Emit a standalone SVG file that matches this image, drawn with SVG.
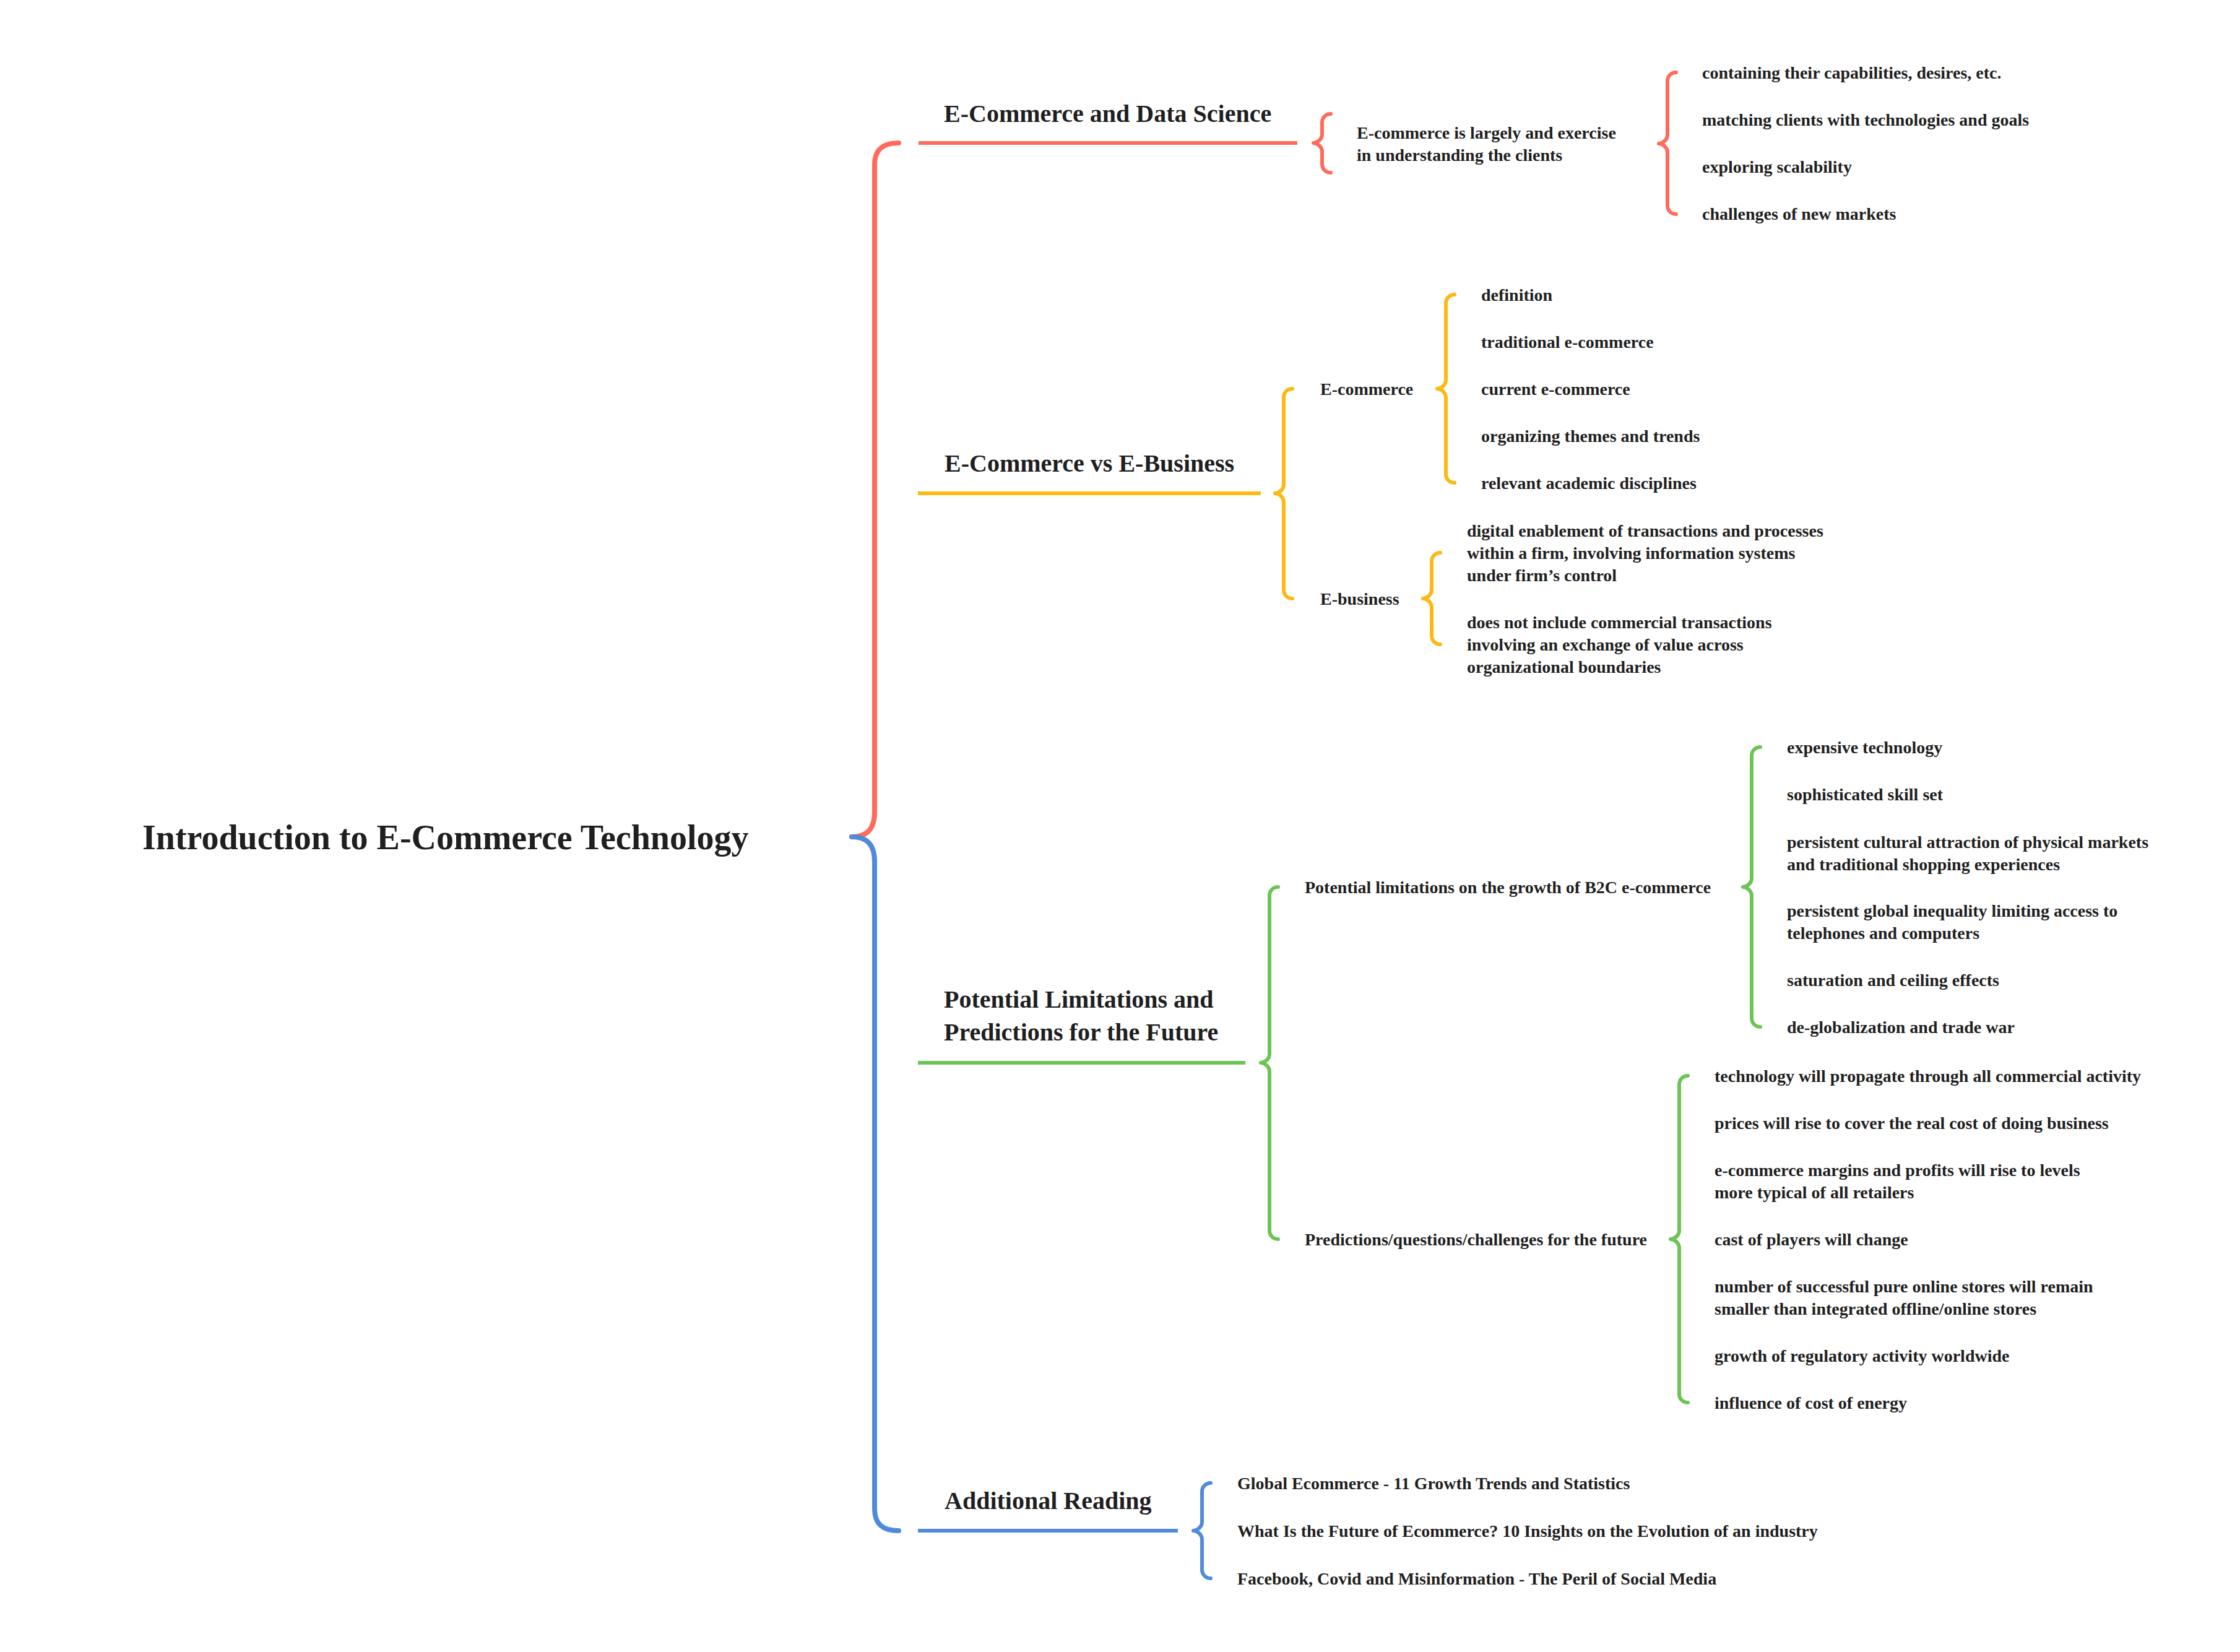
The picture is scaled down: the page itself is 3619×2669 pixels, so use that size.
<svg xmlns="http://www.w3.org/2000/svg" width="3619" height="2669" viewBox="0 0 3619 2669">
<style>
text{font-family:"Liberation Serif","Times New Roman",serif;font-weight:bold;fill:#1f1f1f}
.root{font-size:56px}
.h{font-size:40px}
.t{font-size:28px}
.c{fill:none;stroke-linecap:round;stroke-linejoin:round}
.main{stroke-width:8}
.br{stroke-width:6}
.ln{fill:none;stroke-width:6}
.red{stroke:#FF6B5A}.org{stroke:#FDB813}.grn{stroke:#6CC454}.blu{stroke:#508ADC}
</style>
<rect width="3619" height="2669" fill="#ffffff"/>
<g id="connectors">
<path class="c main red" d="M1452,231 C1426,231 1413,242 1413,266 L1413,1312 C1413,1340 1400,1352 1376,1352"/>
<path class="c main blu" d="M1376,1352 C1400,1352 1413,1364 1413,1392 L1413,2438 C1413,2462 1426,2473 1452,2473"/>
<line class="ln red" x1="1484" y1="231" x2="2096" y2="231"/>
<line class="ln org" x1="1483" y1="797" x2="2037" y2="797"/>
<line class="ln grn" x1="1483" y1="1717" x2="2012" y2="1717"/>
<line class="ln blu" x1="1483" y1="2473" x2="1903" y2="2473"/>
<path class="c br red" d="M2150,184 C2142,184 2136,190 2136,198 L2136,217 C2136,225 2128,231 2122,231 C2128,231 2136,237 2136,245 L2136,265 C2136,273 2142,279 2150,279"/>
<path class="c br red" d="M2708,117 C2700,117 2694,123 2694,131 L2694,218 C2694,226 2686,232 2680,232 C2686,232 2694,238 2694,246 L2694,332 C2694,340 2700,346 2708,346"/>
<path class="c br org" d="M2088,628 C2080,628 2074,634 2074,642 L2074,783 C2074,791 2066,797 2060,797 C2066,797 2074,803 2074,811 L2074,953 C2074,961 2080,967 2088,967"/>
<path class="c br org" d="M2350,476 C2342,476 2336,482 2336,490 L2336,614 C2336,622 2328,628 2322,628 C2328,628 2336,634 2336,642 L2336,766 C2336,774 2342,780 2350,780"/>
<path class="c br org" d="M2327,893 C2319,893 2313,899 2313,907 L2313,953 C2313,961 2305,967 2299,967 C2305,967 2313,973 2313,981 L2313,1027 C2313,1035 2319,1041 2327,1041"/>
<path class="c br grn" d="M2065,1433 C2057,1433 2051,1439 2051,1447 L2051,1703 C2051,1711 2043,1717 2037,1717 C2043,1717 2051,1723 2051,1731 L2051,1988 C2051,1996 2057,2002 2065,2002"/>
<path class="c br grn" d="M2844,1207 C2836,1207 2830,1213 2830,1221 L2830,1419 C2830,1427 2822,1433 2816,1433 C2822,1433 2830,1439 2830,1447 L2830,1645 C2830,1653 2836,1659 2844,1659"/>
<path class="c br grn" d="M2727,1738 C2719,1738 2713,1744 2713,1752 L2713,1988 C2713,1996 2705,2002 2699,2002 C2705,2002 2713,2008 2713,2016 L2713,2252 C2713,2260 2719,2266 2727,2266"/>
<path class="c br blu" d="M1956,2396 C1948,2396 1942,2402 1942,2410 L1942,2459 C1942,2467 1934,2473 1928,2473 C1934,2473 1942,2479 1942,2487 L1942,2536 C1942,2544 1948,2550 1956,2550"/>
</g>
<g id="root"><text class="root" x="230" y="1372">Introduction to E-Commerce Technology</text></g>

<g id="n-ecds"><text class="h" x="1525" y="197">E-Commerce and Data Science</text></g>
<g id="n-ecds-1"><text class="t" x="2192" y="223.5">E-commerce is largely and exercise</text><text class="t" x="2192" y="259.5">in understanding the clients</text></g>
<g id="n-ecds-1a"><text class="t" x="2750" y="127">containing their capabilities, desires, etc.</text></g>
<g id="n-ecds-1b"><text class="t" x="2750" y="203">matching clients with technologies and goals</text></g>
<g id="n-ecds-1c"><text class="t" x="2750" y="279">exploring scalability</text></g>
<g id="n-ecds-1d"><text class="t" x="2750" y="355">challenges of new markets</text></g>

<g id="n-eceb"><text class="h" x="1526" y="762">E-Commerce vs E-Business</text></g>
<g id="n-ec"><text class="t" x="2133" y="637.5">E-commerce</text></g>
<g id="n-ec-1"><text class="t" x="2393" y="485.5">definition</text></g>
<g id="n-ec-2"><text class="t" x="2393" y="561.5">traditional e-commerce</text></g>
<g id="n-ec-3"><text class="t" x="2393" y="637.5">current e-commerce</text></g>
<g id="n-ec-4"><text class="t" x="2393" y="713.5">organizing themes and trends</text></g>
<g id="n-ec-5"><text class="t" x="2393" y="789.5">relevant academic disciplines</text></g>
<g id="n-eb"><text class="t" x="2133" y="976.5">E-business</text></g>
<g id="n-eb-1"><text class="t" x="2370" y="866.5">digital enablement of transactions and processes</text><text class="t" x="2370" y="902.5">within a firm, involving information systems</text><text class="t" x="2370" y="938.5">under firm’s control</text></g>
<g id="n-eb-2"><text class="t" x="2370" y="1014.5">does not include commercial transactions</text><text class="t" x="2370" y="1050.5">involving an exchange of value across</text><text class="t" x="2370" y="1086.5">organizational boundaries</text></g>

<g id="n-plpf"><text class="h" x="1525" y="1628">Potential Limitations and</text><text class="h" x="1525" y="1681">Predictions for the Future</text></g>
<g id="n-lim"><text class="t" x="2108" y="1442.5">Potential limitations on the growth of B2C e-commerce</text></g>
<g id="n-lim-1"><text class="t" x="2887" y="1216.5">expensive technology</text></g>
<g id="n-lim-2"><text class="t" x="2887" y="1292.5">sophisticated skill set</text></g>
<g id="n-lim-3"><text class="t" x="2887" y="1369.5">persistent cultural attraction of physical markets</text><text class="t" x="2887" y="1405.5">and traditional shopping experiences</text></g>
<g id="n-lim-4"><text class="t" x="2887" y="1480.5">persistent global inequality limiting access to</text><text class="t" x="2887" y="1516.5">telephones and computers</text></g>
<g id="n-lim-5"><text class="t" x="2887" y="1592.5">saturation and ceiling effects</text></g>
<g id="n-lim-6"><text class="t" x="2887" y="1668.5">de-globalization and trade war</text></g>
<g id="n-pred"><text class="t" x="2108" y="2011.5">Predictions/questions/challenges for the future</text></g>
<g id="n-pred-1"><text class="t" x="2770" y="1747.5">technology will propagate through all commercial activity</text></g>
<g id="n-pred-2"><text class="t" x="2770" y="1823.5">prices will rise to cover the real cost of doing business</text></g>
<g id="n-pred-3"><text class="t" x="2770" y="1899.5">e-commerce margins and profits will rise to levels</text><text class="t" x="2770" y="1935.5">more typical of all retailers</text></g>
<g id="n-pred-4"><text class="t" x="2770" y="2011.5">cast of players will change</text></g>
<g id="n-pred-5"><text class="t" x="2770" y="2087.5">number of successful pure online stores will remain</text><text class="t" x="2770" y="2123.5">smaller than integrated offline/online stores</text></g>
<g id="n-pred-6"><text class="t" x="2770" y="2199.5">growth of regulatory activity worldwide</text></g>
<g id="n-pred-7"><text class="t" x="2770" y="2275.5">influence of cost of energy</text></g>

<g id="n-ar"><text class="h" x="1526" y="2438">Additional Reading</text></g>
<g id="n-ar-1"><text class="t" x="1999" y="2405.5">Global Ecommerce - 11 Growth Trends and Statistics</text></g>
<g id="n-ar-2"><text class="t" x="1999" y="2482.5">What Is the Future of Ecommerce? 10 Insights on the Evolution of an industry</text></g>
<g id="n-ar-3"><text class="t" x="1999" y="2559.5">Facebook, Covid and Misinformation - The Peril of Social Media</text></g>
</svg>
